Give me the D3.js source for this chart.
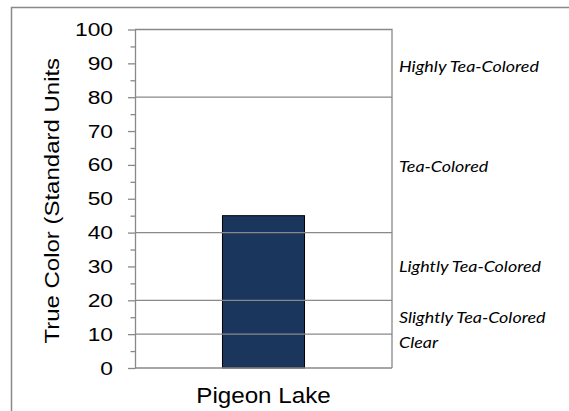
<!DOCTYPE html>
<html>
<head>
<meta charset="utf-8">
<script src="https://cdn.jsdelivr.net/npm/d3@7"></script>
<style>
  body { margin: 0; background: #fff; }
  svg { display: block; }
</style>
</head>
<body>
<div id="chart"></div>
<script>
// data
const lakes = ["Pigeon Lake"];
const trueColor = [45];
const yTicks = [0, 10, 20, 30, 40, 50, 60, 70, 80, 90, 100];
const minorTicks = [5, 15, 25, 35, 45, 55, 65, 75, 85, 95];
const classBreaks = [10, 20, 40, 80];
const classNames = ["Highly Tea-Colored", "Tea-Colored", "Lightly Tea-Colored", "Slightly Tea-Colored", "Clear"];
const classLabelAt = [89, 59.5, 30, 15, 7.5];

const width = 569, height = 411;
const plot = { left: 135, right: 392, top: 29.5, bottom: 368 };
const grey = "#898989";

const svg = d3.select("#chart").append("svg")
  .attr("width", width)
  .attr("height", height);

// outer chart border (right and bottom edges fall off the picture)
svg.append("rect")
  .attr("x", 11.5).attr("y", 7.5)
  .attr("width", 600).attr("height", 450)
  .attr("fill", "none")
  .attr("stroke", grey)
  .attr("stroke-width", 1.5);

const y = d3.scaleLinear().domain([0, 100]).range([plot.bottom, plot.top]);
const x = d3.scaleBand().domain(lakes).range([plot.left, plot.right]).padding(0.516);

// bars
svg.selectAll("rect.bar")
  .data(lakes)
  .join("rect")
  .attr("class", "bar")
  .attr("x", d => x(d))
  .attr("width", x.bandwidth())
  .attr("y", (d, i) => y(trueColor[i]))
  .attr("height", (d, i) => y(0) - y(trueColor[i]))
  .attr("fill", "#1b365d")
  .attr("stroke", "#000")
  .attr("stroke-width", 1);

// class break lines, drawn over the bar
svg.selectAll("line.brk")
  .data(classBreaks)
  .join("line")
  .attr("class", "brk")
  .attr("x1", plot.left).attr("x2", plot.right)
  .attr("y1", d => y(d)).attr("y2", d => y(d))
  .attr("stroke", grey)
  .attr("stroke-width", 1.3);

// plot frame: top and right
svg.append("path")
  .attr("d", `M${plot.left},${y(100)}H${plot.right}V${y(0)}`)
  .attr("fill", "none")
  .attr("stroke", grey)
  .attr("stroke-width", 1.3);

// minor ticks
const yMinor = svg.append("g")
  .attr("transform", `translate(${plot.left},0)`)
  .call(d3.axisLeft(y).tickValues(minorTicks).tickSize(4.5).tickFormat(""));
yMinor.select(".domain").remove();
yMinor.selectAll("line").attr("stroke", grey).attr("stroke-width", 1.3);

// y axis
const yAxis = svg.append("g")
  .attr("transform", `translate(${plot.left},0)`)
  .call(d3.axisLeft(y).tickValues(yTicks).tickSize(7).tickSizeOuter(0).tickPadding(15));
yAxis.select(".domain").attr("stroke", grey).attr("stroke-width", 1.3);
yAxis.selectAll(".tick line").attr("stroke", grey).attr("stroke-width", 1.3);
yAxis.selectAll("text")
  .attr("font-family", "Liberation Sans, Arial, sans-serif")
  .attr("font-size", 19)
  .attr("fill", "#000")
  .attr("x", -22 / 1.2)
  .attr("transform", "scale(1.2,1)");

// x axis line
svg.append("line")
  .attr("x1", plot.left).attr("x2", plot.right)
  .attr("y1", y(0)).attr("y2", y(0))
  .attr("stroke", grey)
  .attr("stroke-width", 1.3);

// category label
svg.selectAll("text.cat")
  .data(lakes)
  .join("text")
  .attr("class", "cat")
  .attr("transform", d => `translate(${x(d) + x.bandwidth() / 2},403) scale(1.1,1)`)
  .attr("text-anchor", "middle")
  .attr("font-family", "Liberation Sans, Arial, sans-serif")
  .attr("font-size", 22)
  .text(d => d);

// y axis title
svg.append("text")
  .attr("transform", `translate(59,${(plot.top + plot.bottom) / 2 + 2}) rotate(-90) scale(1.2,1)`)
  .attr("text-anchor", "middle")
  .attr("font-family", "Liberation Sans, Arial, sans-serif")
  .attr("font-size", 20)
  .text("True Color (Standard Units");

// class names on the right
svg.selectAll("text.cls")
  .data(classNames)
  .join("text")
  .attr("class", "cls")
  .attr("transform", (d, i) => `translate(399,${y(classLabelAt[i])}) scale(1.12,1)`)
  .attr("dy", "0.35em")
  .attr("font-family", "Lato, sans-serif")
  .attr("font-style", "italic")
  .attr("font-size", 16)
  .text(d => d);
</script>
</body>
</html>
